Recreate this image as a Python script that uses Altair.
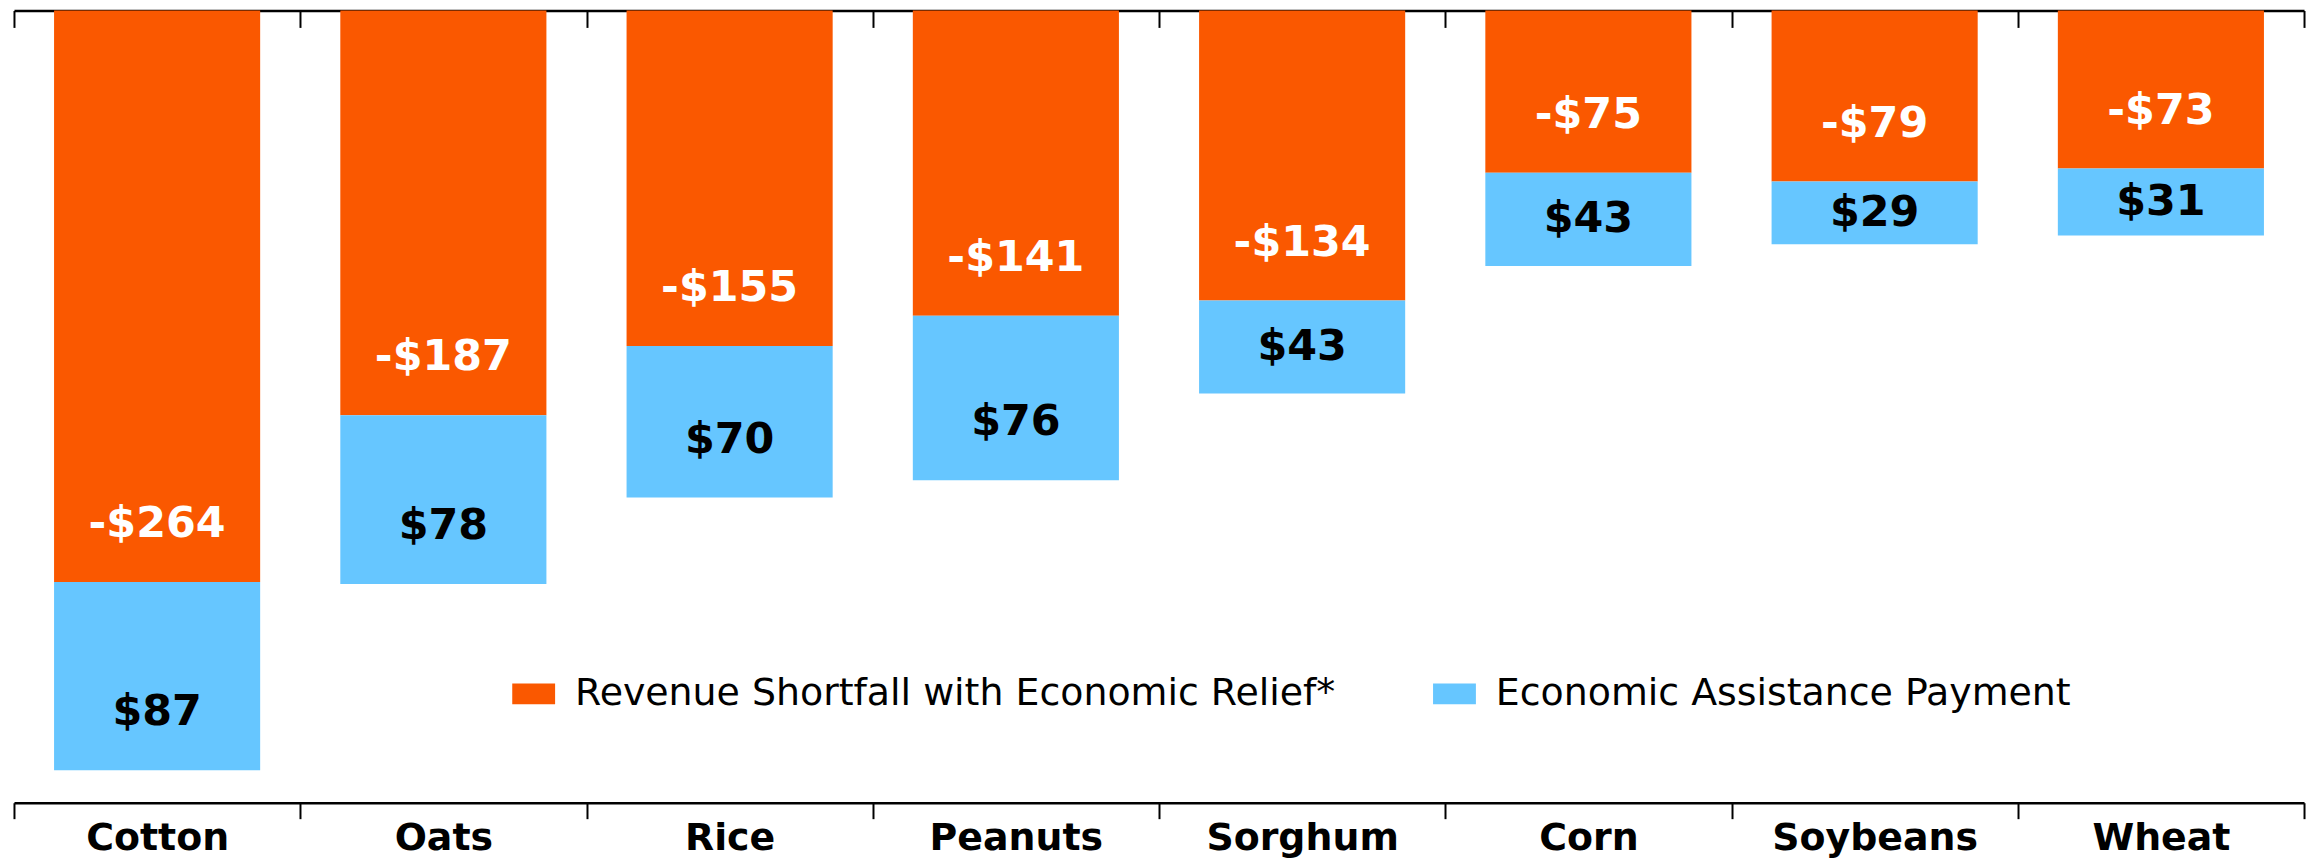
import altair as alt
import pandas as pd

# ---- data ----
crops = ["Cotton", "Oats", "Rice", "Peanuts", "Sorghum", "Corn", "Soybeans", "Wheat"]
shortfall = [264, 187, 155, 141, 134, 75, 79, 73]   # revenue shortfall (shown negative)
payment = [87, 78, 70, 76, 43, 43, 29, 31]          # economic assistance payment
series_names = ["Revenue Shortfall with Economic Relief*", "Economic Assistance Payment"]
series_colors = ["#FA5800", "#66C6FF"]

# ---- layout ----
Y_MIN = -366
PLOT_W, PLOT_H = 2298, 795
INSET_PX = 58                      # label inset from segment end (pixels)
inset = INSET_PX * (-Y_MIN) / PLOT_H
FONT = "DejaVu Sans"

rows = []
for c, s, p in zip(crops, shortfall, payment):
    s0, s1 = 0, -s
    p0, p1 = -s, -(s + p)
    rows.append(dict(crop=c, series=series_names[0], y0=s0, y1=s1,
                     label=f"-${s}", ly=min(s1 + inset, (s0 + s1) / 2)))
    rows.append(dict(crop=c, series=series_names[1], y0=p0, y1=p1,
                     label=f"${p}", ly=min(p1 + inset, (p0 + p1) / 2)))
df = pd.DataFrame(rows)

xscale = alt.Scale(paddingInner=0, paddingOuter=0)
yscale = alt.Scale(domain=[Y_MIN, 0], nice=False, zero=False)

bars = alt.Chart(df).mark_bar(width=alt.RelativeBandSize(0.72)).encode(
    x=alt.X("crop:N", sort=crops, scale=xscale,
            axis=alt.Axis(orient="bottom", title=None, labelFont=FONT, labelFontWeight="bold",
                          labelFontSize=38, labelColor="black", labelAngle=0, labelLimit=1000,
                          tickBand="extent", tickSize=16, tickWidth=2, tickColor="black",
                          domainColor="black", domainWidth=2.5, labelPadding=1)),
    y=alt.Y("y0:Q", scale=yscale, axis=None),
    y2="y1:Q",
    color=alt.Color("series:N", sort=series_names,
                    scale=alt.Scale(domain=series_names, range=series_colors),
                    legend=alt.Legend(orient="none", legendX=500, legendY=664,
                                      direction="horizontal", title=None,
                                      labelFont=FONT, labelFontSize=38, labelColor="black",
                                      labelLimit=3000,
                                      symbolType="M-1,-0.48H1V0.48H-1Z", symbolSize=1849,
                                      symbolStrokeWidth=0, labelOffset=20,
                                      columnPadding=97, padding=0)),
)

orange_labels = alt.Chart(df).transform_filter(
    alt.datum.series == series_names[0]
).mark_text(font=FONT, fontWeight="bold", fontSize=43, color="white", baseline="middle").encode(
    x=alt.X("crop:N", sort=crops, scale=xscale,
            axis=alt.Axis(orient="top", title=None, labels=False, ticks=False,
                          domain=True, domainColor="black", domainWidth=2.5)),
    y=alt.Y("ly:Q", scale=yscale, axis=None),
    text="label:N",
)

blue_labels = alt.Chart(df).transform_filter(
    alt.datum.series == series_names[1]
).mark_text(font=FONT, fontWeight="bold", fontSize=43, color="black", baseline="middle").encode(
    x=alt.X("crop:N", sort=crops, scale=xscale,
            axis=alt.Axis(orient="top", title=None, labels=False, ticks=True, domain=False,
                          tickBand="extent", tickSize=17, tickWidth=2, tickColor="black",
                          offset=-17)),
    y=alt.Y("ly:Q", scale=yscale, axis=None),
    text="label:N",
)

chart = alt.layer(bars, orange_labels, blue_labels).resolve_axis(
    x="independent"
).properties(
    width=PLOT_W, height=PLOT_H,
    autosize=alt.AutoSizeParams(type="none"),
    padding={"left": 6, "top": 1, "right": 6, "bottom": 55},
    background="white",
).configure_view(strokeWidth=0)

chart.save("out.html", embed_options={"renderer": "svg", "actions": False})
